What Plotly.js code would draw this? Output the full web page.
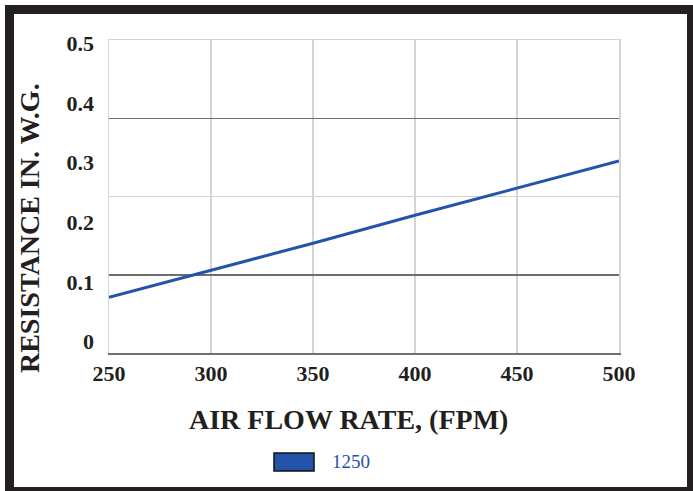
<!DOCTYPE html>
<html>
<head>
<meta charset="utf-8">
<script src="https://cdn.plot.ly/plotly-3.0.1.min.js"></script>
<style>
  html, body { margin:0; padding:0; background:#fff; overflow:hidden; }
  #wrap { position:relative; width:693px; height:491px; }
  #chart { position:absolute; left:0; top:0; width:693px; height:491px; }
  #frame { position:absolute; left:5px; top:5px; width:691px; height:491px; box-sizing:border-box;
           border:9px solid #231f20; pointer-events:none; }
</style>
</head>
<body>
<div id="wrap">
  <div id="chart"></div>
  <div id="frame"></div>
</div>
<script>
// ---- data ----
const airFlow = [250, 300, 350, 400, 450, 500];            // FPM
const resistance = [0.074, 0.119, 0.165, 0.212, 0.257, 0.303]; // in. W.G.
const seriesName = "1250";
const yTickVals = [0, 0.1, 0.2, 0.3, 0.4, 0.5];
const xTickVals = [250, 300, 350, 400, 450, 500];
const xTitle = "AIR FLOW RATE, (FPM)";
const yTitle = "RESISTANCE IN. W.G.";

const lineColor = "#2454a9";
const textColor = "#231f20";
const serif = "Liberation Serif, Times New Roman, serif";

const trace = {
  x: airFlow, y: resistance, type: "scatter", mode: "lines",
  name: seriesName, yaxis: "y2", showlegend: false,
  line: { color: lineColor, width: 3 }
};
// invisible helper traces so the grid axes render
const gridTrace = { x: [airFlow[0]], y: [0], type: "scatter", mode: "markers",
  marker: { opacity: 0 }, showlegend: false, hoverinfo: "skip", yaxis: "y" };
const gridTrace3 = { x: [airFlow[0]], y: [0], type: "scatter", mode: "markers",
  marker: { opacity: 0 }, showlegend: false, hoverinfo: "skip", yaxis: "y3" };
const topTrace = { x: [airFlow[0]], y: [0], type: "scatter", mode: "markers",
  marker: { opacity: 0 }, showlegend: false, hoverinfo: "skip", xaxis: "x2", yaxis: "y" };

const layout = {
  width: 693, height: 491,
  margin: { l: 109, r: 74, t: 40, b: 138 },
  paper_bgcolor: "rgba(0,0,0,0)", plot_bgcolor: "#fff",
  showlegend: false,
  xaxis: {
    range: [250, 500], tickvals: xTickVals, showgrid: true, gridcolor: "#d4d4d4", gridwidth: 1.5,
    showline: true, linecolor: "#6f6f6f", linewidth: 1.5, zeroline: false,
    ticks: "", ticklabelstandoff: 0,
    tickfont: { family: serif, size: 22, color: textColor, weight: "bold" }
  },
  xaxis2: {
    overlaying: "x", side: "top", range: [250, 500], showgrid: false, showticklabels: false,
    showline: true, linecolor: "#d4d4d4", linewidth: 1.5, zeroline: false, ticks: ""
  },
  yaxis: {
    range: [0, 0.4], dtick: 0.1, showgrid: true, gridcolor: "#d4d4d4", gridwidth: 1.5,
    showline: true, mirror: true, linecolor: "#d4d4d4", linewidth: 1.5, zeroline: false,
    showticklabels: false, ticks: ""
  },
  yaxis3: {
    overlaying: "y", range: [0, 0.4], tickvals: [0.1, 0.3], showgrid: true, gridcolor: "#6e6e6e", gridwidth: 1.5,
    showline: false, zeroline: false, showticklabels: false, ticks: ""
  },
  yaxis2: {
    overlaying: "y", side: "left", range: [-0.0194, 0.5062], tickvals: yTickVals,
    showgrid: false, zeroline: false, showline: false, ticks: "", ticklabelstandoff: 14,
    tickfont: { family: serif, size: 22, color: textColor, weight: "bold" }
  },
  annotations: [
    { text: yTitle, xref: "paper", yref: "paper", x: -0.157, y: 0.399, textangle: -90,
      showarrow: false, xanchor: "center", yanchor: "middle",
      font: { family: serif, size: 28, color: textColor, weight: "bold" } },
    { text: xTitle, xref: "paper", yref: "paper", x: 0.469, y: -0.211,
      showarrow: false, xanchor: "center", yanchor: "middle",
      font: { family: serif, size: 28, color: textColor, weight: "bold" } },
    { text: seriesName, xref: "paper", yref: "paper", x: 0.434, y: -0.348,
      showarrow: false, xanchor: "left", yanchor: "middle",
      font: { family: serif, size: 19, color: lineColor } }
  ],
  shapes: [
    { type: "rect", xref: "paper", yref: "paper", x0: 0.3235, x1: 0.402, y0: -0.377, y1: -0.3195,
      fillcolor: lineColor, line: { color: "#111", width: 1.5 } }
  ]
};

Plotly.newPlot("chart", [gridTrace, gridTrace3, topTrace, trace], layout, { staticPlot: true, displayModeBar: false });
</script>
</body>
</html>
